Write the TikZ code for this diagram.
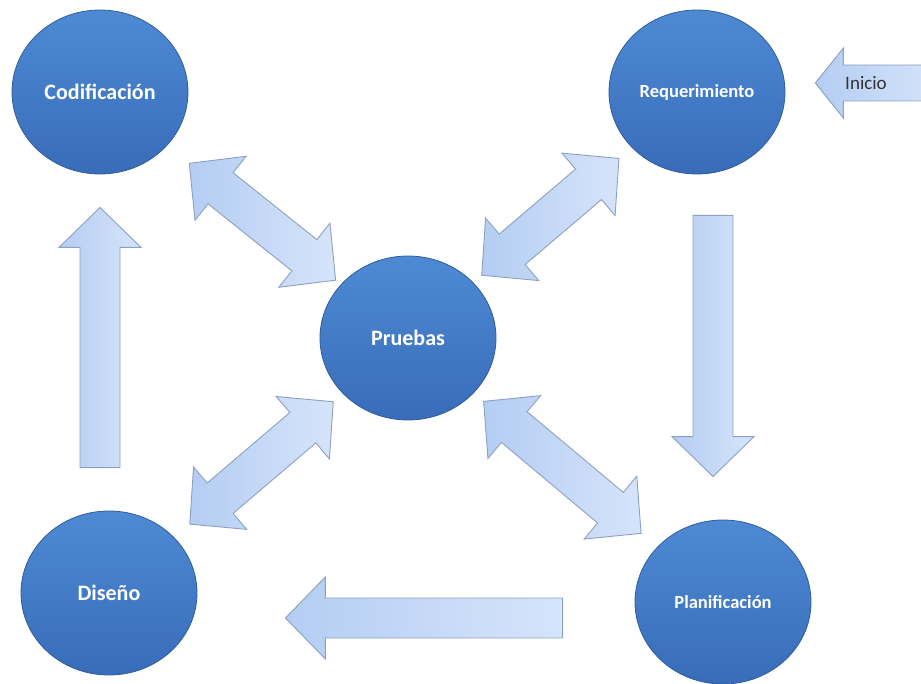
\documentclass[tikz,border=0pt]{standalone}
\usepackage{fontspec}
\setmainfont{Carlito}
\usetikzlibrary{calc,shapes.geometric}

\definecolor{circtop}{RGB}{78,138,212}
\definecolor{circbot}{RGB}{56,108,184}
\definecolor{circedge}{RGB}{48,92,158}
\definecolor{arrlight}{RGB}{214,228,250}
\definecolor{arrdark}{RGB}{180,205,243}
\definecolor{arredge}{RGB}{142,160,192}

\newcommand{\arrw}{20pt}
\newcommand{\arrh}{41pt}
\newcommand{\arrl}{40pt}

% block arrow: tail #1, tip #2
\newcommand{\onearrow}[2]{%
  \coordinate (ba-s) at (#1);
  \coordinate (ba-e) at (#2);
  \coordinate (ba-b) at ($(ba-e)!\arrl!(ba-s)$);
  \draw[blockarrow] ($(ba-s)!\arrw!90:(ba-e)$) -- ($(ba-b)!\arrw!-90:(ba-s)$)
    -- ($(ba-b)!\arrh!-90:(ba-s)$) -- (ba-e) -- ($(ba-b)!\arrh!90:(ba-s)$)
    -- ($(ba-b)!\arrw!90:(ba-s)$) -- ($(ba-s)!\arrw!-90:(ba-e)$) -- cycle;}

% block arrow with two tips
\newcommand{\twoarrow}[2]{%
  \coordinate (ba-s) at (#1);
  \coordinate (ba-e) at (#2);
  \coordinate (ba-a) at ($(ba-s)!\arrl!(ba-e)$);
  \coordinate (ba-b) at ($(ba-e)!\arrl!(ba-s)$);
  \draw[blockarrow] (ba-s) -- ($(ba-a)!\arrh!90:(ba-e)$) -- ($(ba-a)!\arrw!90:(ba-e)$)
    -- ($(ba-b)!\arrw!-90:(ba-s)$) -- ($(ba-b)!\arrh!-90:(ba-s)$) -- (ba-e)
    -- ($(ba-b)!\arrh!90:(ba-s)$) -- ($(ba-b)!\arrw!90:(ba-s)$)
    -- ($(ba-a)!\arrw!-90:(ba-e)$) -- ($(ba-a)!\arrh!-90:(ba-e)$) -- cycle;}

\begin{document}
\begin{tikzpicture}[x=1pt,y=-1pt,
  circ/.style={ellipse,minimum width=176pt,minimum height=164pt,inner sep=0pt,
    top color=circtop,bottom color=circbot,draw=circedge,line width=0.8pt,
    text=white,font=\bfseries\fontsize{22}{24}\selectfont},
  smaller/.style={font=\bfseries\fontsize{18.5}{20}\selectfont},
  blockarrow/.style={draw=arredge,line width=0.9pt,line join=miter,
    left color=arrdark,right color=arrlight}]
  \useasboundingbox (0,0) rectangle (921,684);
  \clip (0,0) rectangle (921,684);

  %phases
  \node[circ] (cod) at (100,92) {Codificación};
  \node[circ,smaller] (req) at (697,92) {Requerimiento};
  \node[circ] (pru) at (408,338) {Pruebas};
  \node[circ] (dis) at (109,593) {Diseño};
  \node[circ,smaller] (pla) at (723,602) {Planificación};

  %cycle
  \onearrow{$(req.south)+(16,41)$}{$(pla.north)+(-10,-43)$}
  \onearrow{$(pla.west)+(-72,16)$}{$(dis.east)+(88,25)$}
  \onearrow{$(dis.north)+(-9,-43)$}{$(cod.south)+(0,33)$}

  %tests
  \twoarrow{$(cod)!0.29!(pru)$}{$(cod)!0.765!(pru)$}
  \twoarrow{$(req)!0.27!(pru)$}{$(req)!0.745!(pru)$}
  \twoarrow{$(pru)!0.25!(dis)$}{$(pru)!0.73!(dis)$}
  \twoarrow{$(pru)!0.24!(pla)$}{$(pru)!0.74!(pla)$}

  %start
  \coordinate (entrada) at (940,83);
  {\renewcommand{\arrw}{18pt}\renewcommand{\arrh}{35pt}\renewcommand{\arrl}{28pt}%
  \onearrow{entrada}{$(req.east)+(30,-9)$}}
  \node[font=\fontsize{19}{20}\selectfont,text=black!80] (ini) at (866,83) {Inicio};
\end{tikzpicture}
\end{document}
